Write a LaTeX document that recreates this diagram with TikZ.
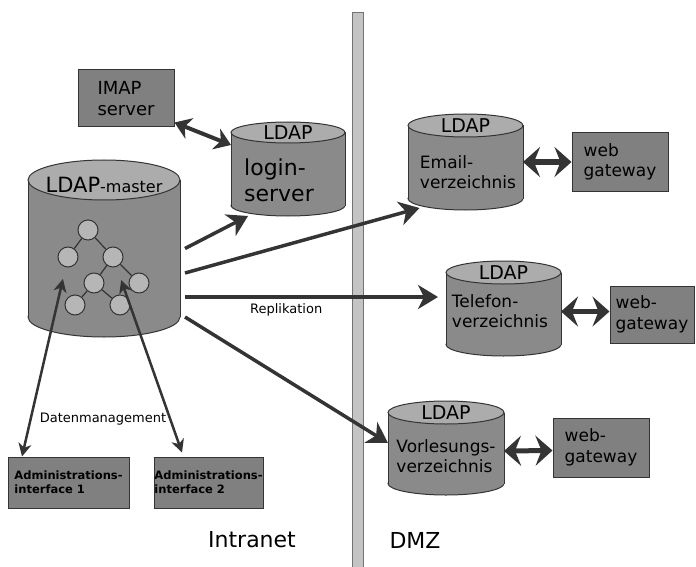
\documentclass[tikz,border=0pt]{standalone}
\usepackage{fontspec}
\setmainfont{DejaVu Sans}
\usetikzlibrary{arrows.meta,calc}
\definecolor{boxgray}{RGB}{128,128,128}
\definecolor{cylbody}{RGB}{138,138,138}
\definecolor{cyltop}{RGB}{172,172,172}
\definecolor{treegray}{RGB}{182,182,182}
\definecolor{linegray}{RGB}{52,52,52}
\definecolor{wallgray}{RGB}{196,196,196}
\newcommand{\fsz}[1]{\fontsize{#1}{1.2\dimexpr#1pt\relax}\selectfont}
% cylinder drawn into the box of a named node: name, y radius of the ends
\newcommand{\dbcyl}[2]{%
    \draw[fill=cylbody, draw=linegray, line width=1pt]
        let \p1=(#1.north west), \p2=(#1.south east), \n1={(\x2-\x1)/2} in
        ([yshift=#2pt]#1.south) ellipse [x radius=\n1, y radius=#2pt];
    \fill[cylbody] ([yshift=-#2pt]#1.north west) rectangle ([yshift=#2pt]#1.south east);
    \draw[linegray, line width=1pt]
        ([yshift=-#2pt]#1.north west) -- ([yshift=#2pt]#1.south west)
        ([yshift=-#2pt]#1.north east) -- ([yshift=#2pt]#1.south east);
    \draw[fill=cyltop, draw=linegray, line width=1pt]
        let \p1=(#1.north west), \p2=(#1.south east), \n1={(\x2-\x1)/2} in
        ([yshift=-#2pt]#1.north) ellipse [x radius=\n1, y radius=#2pt];
}

\begin{document}
\begin{tikzpicture}[
    x=1pt, y=-1pt,
    every node/.style={text=black},
    box/.style={draw=linegray, fill=boxgray, line width=1pt, inner sep=0pt, align=left},
    dbbox/.style={inner sep=0pt, outer sep=0pt},
    leaf/.style={circle, draw=linegray, fill=treegray, line width=1pt, minimum size=20pt, inner sep=0pt},
    dbtext/.style={align=left, font=\fsz{17}, inner sep=0pt},
    rep/.style={-{Stealth[length=20pt, width=24pt, inset=6pt]}, line width=3.5pt, linegray},
    gw/.style={{Stealth[length=17pt, width=30pt, inset=6pt]}-{Stealth[length=17pt, width=30pt, inset=6pt]}, line width=5pt, linegray},
    imap/.style={{Stealth[length=16pt, width=22pt, inset=5pt]}-{Stealth[length=16pt, width=22pt, inset=5pt]}, line width=4pt, linegray},
    adm/.style={{Stealth[length=13pt, width=13pt, inset=4pt]}-{Stealth[length=13pt, width=13pt, inset=4pt]}, line width=2.5pt, linegray}
]
    \useasboundingbox (0,0) rectangle (696,567);

    % firewall between intranet and DMZ
    \draw[fill=wallgray, draw=black!55, line width=1pt] (352,13) rectangle (363,567);

    % LDAP master with its tree
    \node[dbbox, minimum width=152pt, minimum height=177pt] (master) at (104,248.5) {};
    \dbcyl{master}{20}
    \node[inner sep=0pt] (mastertxt) at ([yshift=-25pt]master.north) {\fsz{21}LDAP\fsz{16}-master};
    \node[leaf] (tt) at (88,230) {};
    \node[leaf] (tl) at (68,257) {};
    \node[leaf] (tr) at (113,257) {};
    \node[leaf] (tm) at (94,283) {};
    \node[leaf] (trr) at (139,283) {};
    \node[leaf] (tbl) at (75,305) {};
    \node[leaf] (tbr) at (120,305) {};
    \foreach \a/\b in {tt/tl, tt/tr, tr/tm, tr/trr, tm/tbl, tm/tbr}
        \draw[linegray, line width=1.2pt] (\a) -- (\b);

    % login server and IMAP
    \node[dbbox, minimum width=114pt, minimum height=94pt] (login) at (288,169) {};
    \dbcyl{login}{10.5}
    \node[inner sep=0pt, font=\fsz{19}] (logintop) at ([yshift=-11pt]login.north) {LDAP};
    \node[dbtext, font=\fsz{22}] (logintxt) at (279,180) {login-\\server};
    \node[box, minimum width=96pt, minimum height=57pt, font=\fsz{18}] (imapsrv) at (126,98.5) {IMAP\\server};

    % DMZ directories
    \node[dbbox, minimum width=115pt, minimum height=96pt] (email) at (465.5,162) {};
    \dbcyl{email}{11.5}
    \node[inner sep=0pt, font=\fsz{19}] (emailtop) at ([yshift=-12pt]email.north) {LDAP};
    \node[dbtext] (emailtxt) at (468,172) {Email-\\verzeichnis};

    \node[dbbox, minimum width=115pt, minimum height=95pt] (telefon) at (503.5,308.5) {};
    \dbcyl{telefon}{11.5}
    \node[inner sep=0pt, font=\fsz{19}] (telefontop) at ([yshift=-12pt]telefon.north) {LDAP};
    \node[dbtext] (telefontxt) at (500,311) {Telefon-\\verzeichnis};

    \node[dbbox, minimum width=116pt, minimum height=94pt] (vorl) at (446,448) {};
    \dbcyl{vorl}{11.5}
    \node[inner sep=0pt, font=\fsz{19}] (vorltop) at ([yshift=-12pt]vorl.north) {LDAP};
    \node[dbtext] (vorltxt) at (446,456) {Vorlesungs-\\verzeichnis};

    % web gateways
    \node[box, minimum width=96pt, minimum height=58pt, font=\fsz{17}] (gwa) at (620,162) {web\\gateway};
    \node[box, minimum width=84pt, minimum height=57pt, font=\fsz{17}] (gwb) at (652,314.5) {web-\\gateway};
    \node[box, minimum width=96pt, minimum height=59pt, font=\fsz{17}] (gwc) at (601,447.5) {web-\\gateway};

    % administration interfaces
    \node[box, minimum width=121pt, minimum height=51pt, font=\bfseries\fsz{11.5}] (adma) at (68.5,482.5) {Administrations-\\interface 1};
    \node[box, minimum width=109pt, minimum height=51pt, font=\bfseries\fsz{11.5}] (admb) at (208.5,482.5) {Administrations-\\interface 2};

    % connectors
    \draw[imap] ([yshift=5pt]imapsrv.south east) -- ([yshift=24pt]login.west);
    \draw[rep] ([xshift=5pt]master.east) -- ([xshift=-40pt]login.south);
    \draw[rep] ([xshift=5pt, yshift=-24.5pt]master.east) -- ([xshift=-46pt, yshift=2pt]email.south);
    \draw[rep] ([xshift=5pt, yshift=-48.5pt]master.east) -- ([xshift=-8pt, yshift=11.5pt]telefon.west)
        node[pos=0.4, below, yshift=-2pt, font=\fsz{13}] (replab) {Replikation};
    \draw[rep] ([xshift=5pt, yshift=-68.5pt]master.east) -- ([yshift=5pt]vorl.west);
    \draw[gw] (email.east) -- (gwa.west);
    \draw[gw] ([yshift=-3pt]telefon.east) -- ([yshift=3pt]gwb.west);
    \draw[gw] ([yshift=-3pt]vorl.east) -- ([yshift=-3pt]gwc.west);
    \draw[adm, shorten >=12pt] ([xshift=-46.5pt]adma.north) -- (tl);
    \draw[adm, shorten >=14pt] ([xshift=-26.5pt, yshift=4pt]admb.north) -- (tr);

    % labels
    \node[font=\fsz{13}] (datenlab) at (103,419) {Datenmanagement};
    \node[font=\fsz{22}] (intranet) at (252,540) {Intranet};
    \node[font=\fsz{22}] (dmz) at (415,540) {DMZ};
\end{tikzpicture}
\end{document}
